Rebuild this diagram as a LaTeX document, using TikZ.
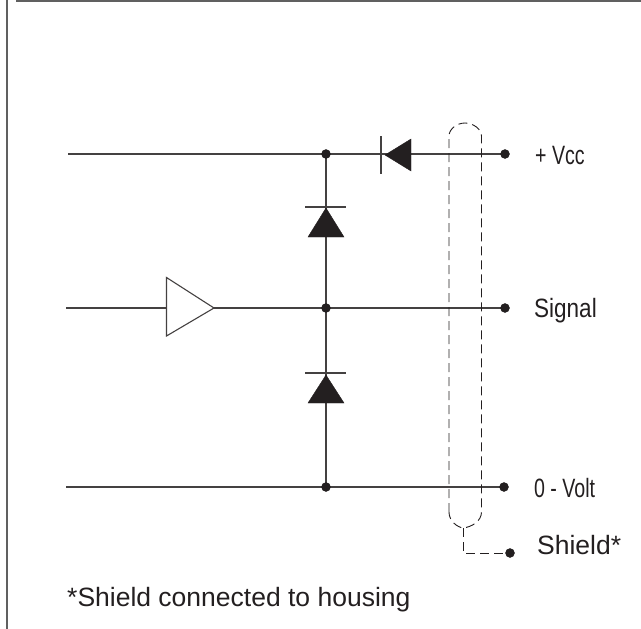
\documentclass[tikz,border=0pt]{standalone}
\usepackage{fontspec}
\setmainfont{Liberation Sans}
\definecolor{inkblack}{HTML}{231F20}
\definecolor{framegray}{HTML}{606060}
\tikzset{
	wire/.style={draw=inkblack!85,line width=1.1pt},
	shieldline/.style={draw=inkblack,line width=0.9pt,dash pattern=on 9pt off 5pt},
	framing/.style={draw=framegray,line width=2.2pt},
	label/.style={text=inkblack,anchor=west,inner sep=0pt,font=\fontsize{26.5}{30}\selectfont},
}
\begin{document}
\begin{tikzpicture}[x=1pt,y=-1pt]
		\useasboundingbox (0,0) rectangle (641,629);
		\coordinate (frametl) at (16,1);
		\coordinate (frametr) at (641,1);
		\coordinate (framel) at (7,0);
		\coordinate (framelb) at (7,629);
		\coordinate (vccin) at (68,154);
		\coordinate (vccnode) at (326,154);
		\coordinate (vccend) at (505,154);
		\coordinate (signalin) at (66,308);
		\coordinate (ampin) at (166.5,308);
		\coordinate (ampup) at (166.5,277.5);
		\coordinate (ampdown) at (166.5,336);
		\coordinate (amptip) at (214,308);
		\coordinate (signalnode) at (326,308);
		\coordinate (signalend) at (505,308);
		\coordinate (zeroin) at (66,487);
		\coordinate (zeronode) at (326,487);
		\coordinate (zeroend) at (504,487);
		\coordinate (shieldtl) at (449,136);
		\coordinate (shieldtr) at (481.5,136);
		\coordinate (shieldbl) at (449,512);
		\coordinate (shieldbr) at (481.5,512);
		\coordinate (shieldout) at (463,528);
		\coordinate (shieldcorner) at (463,553);
		\coordinate (shieldend) at (510,553);

		\draw [framing] (frametl) to (frametr);
		\draw [framing] (framel) to (framelb);

		\draw [wire] (vccin) to (vccend);
		\draw [wire] (signalin) to (ampin);
		\draw [wire] (amptip) to (signalend);
		\draw [wire] (zeroin) to (zeroend);
		\draw [wire] (vccnode) to (zeronode);

		% buffer
		\draw [wire] (ampup) -- (amptip) -- (ampdown) -- cycle;

		% diodes
		\filldraw [inkblack] (385,155) -- (411,139) -- (411,171) -- cycle;
		\draw [wire] (381,136) -- (381,174);
		\filldraw [inkblack] (326,208) -- (344,237) -- (308,237) -- cycle;
		\draw [wire] (305,207) -- (346,207);
		\filldraw [inkblack] (326,375) -- (344,403) -- (308,403) -- cycle;
		\draw [wire] (305,373) -- (346,373);

		% shield
		\draw [shieldline] (shieldbl) -- (shieldtl) .. controls (449,129) and (457,123) .. (465,123) .. controls (473,123) and (481.5,129) .. (shieldtr) -- (shieldbr) .. controls (481.5,521) and (472,527) .. (shieldout) .. controls (457,527) and (449,521) .. (shieldbl);
		\draw [shieldline] (shieldout) -- (shieldcorner) -- (shieldend);

		\filldraw [inkblack] (vccnode) circle (4.5);
		\filldraw [inkblack] (signalnode) circle (4.5);
		\filldraw [inkblack] (zeronode) circle (4.5);
		\filldraw [inkblack] (vccend) circle (4.5);
		\filldraw [inkblack] (signalend) circle (4.5);
		\filldraw [inkblack] (zeroend) circle (4.5);
		\filldraw [inkblack] (shieldend) circle (4.5);

		\node [label,xscale=0.74] (vcclabel) at (535,156) {+ Vcc};
		\node [label,xscale=0.85] (signallabel) at (534,311) {Signal};
		\node [label,xscale=0.74] (zerolabel) at (534,488) {0 - Volt};
		\node [label] (shieldlabel) at (537,545) {Shield*};
		\node [label] (notelabel) at (67,600) {*Shield connected to housing};
\end{tikzpicture}
\end{document}
